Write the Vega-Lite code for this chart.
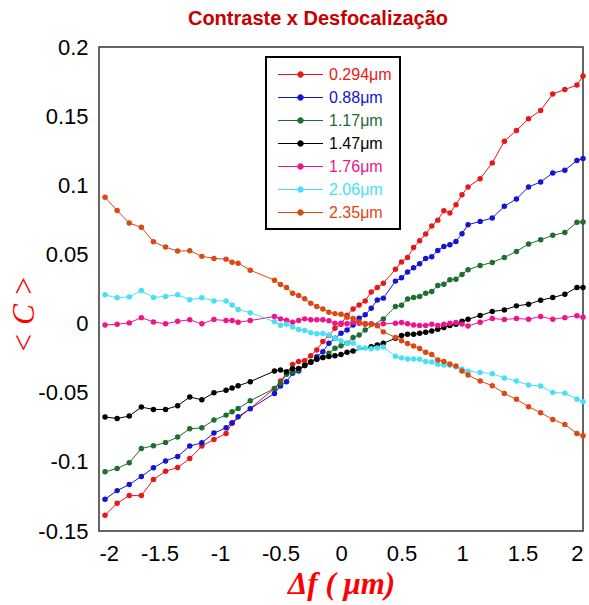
{
  "$schema": "https://vega.github.io/schema/vega-lite/v6.json",
  "autosize": {"type": "none"},
  "width": 484,
  "height": 484,
  "padding": {"left": 99, "top": 47, "right": 6, "bottom": 74},
  "background": "white",
  "title": {
    "text": "Contraste x Desfocalização",
    "font": "Liberation Sans",
    "fontSize": 20,
    "fontWeight": "bold",
    "color": "#c80000",
    "anchor": "middle",
    "dx": -23,
    "offset": 7
  },
  "config": {
    "view": {"stroke": "#333333", "strokeWidth": 1.5},
    "axis": {
      "domain": false,
      "ticks": false,
      "grid": false,
      "labelFont": "Liberation Sans",
      "labelFontSize": 22,
      "labelColor": "#000000"
    }
  },
  "datasets": {
    "contraste": [
      {"s":"0.294μm","x":-1.95,"y":-0.1386},{"s":"0.294μm","x":-1.85,"y":-0.1299},{"s":"0.294μm","x":-1.75,"y":-0.1244},{"s":"0.294μm","x":-1.65,"y":-0.1244},{"s":"0.294μm","x":-1.55,"y":-0.1128},{"s":"0.294μm","x":-1.45,"y":-0.1068},{"s":"0.294μm","x":-1.35,"y":-0.1041},{"s":"0.294μm","x":-1.25,"y":-0.0976},{"s":"0.294μm","x":-1.15,"y":-0.0886},{"s":"0.294μm","x":-1.05,"y":-0.0838},{"s":"0.294μm","x":-0.95,"y":-0.0795},{"s":"0.294μm","x":-0.9,"y":-0.072},{"s":"0.294μm","x":-0.55,"y":-0.047},{"s":"0.294μm","x":-0.5,"y":-0.0415},{"s":"0.294μm","x":-0.45,"y":-0.036},{"s":"0.294μm","x":-0.4,"y":-0.0295},{"s":"0.294μm","x":-0.35,"y":-0.0275},{"s":"0.294μm","x":-0.3,"y":-0.0268},{"s":"0.294μm","x":-0.25,"y":-0.0232},{"s":"0.294μm","x":-0.2,"y":-0.0191},{"s":"0.294μm","x":-0.15,"y":-0.013},{"s":"0.294μm","x":-0.1,"y":-0.0087},{"s":"0.294μm","x":-0.05,"y":-0.0034},{"s":"0.294μm","x":0,"y":-0.0005},{"s":"0.294μm","x":0.05,"y":0.006},{"s":"0.294μm","x":0.1,"y":0.0106},{"s":"0.294μm","x":0.15,"y":0.0135},{"s":"0.294μm","x":0.2,"y":0.0164},{"s":"0.294μm","x":0.25,"y":0.0228},{"s":"0.294μm","x":0.3,"y":0.0261},{"s":"0.294μm","x":0.35,"y":0.0292},{"s":"0.294μm","x":0.45,"y":0.0392},{"s":"0.294μm","x":0.5,"y":0.0446},{"s":"0.294μm","x":0.55,"y":0.0478},{"s":"0.294μm","x":0.6,"y":0.055},{"s":"0.294μm","x":0.65,"y":0.0599},{"s":"0.294μm","x":0.7,"y":0.0647},{"s":"0.294μm","x":0.75,"y":0.0705},{"s":"0.294μm","x":0.8,"y":0.0748},{"s":"0.294μm","x":0.85,"y":0.0816},{"s":"0.294μm","x":0.9,"y":0.08},{"s":"0.294μm","x":0.95,"y":0.086},{"s":"0.294μm","x":1.0,"y":0.0932},{"s":"0.294μm","x":1.05,"y":0.0988},{"s":"0.294μm","x":1.15,"y":0.1047},{"s":"0.294μm","x":1.25,"y":0.1162},{"s":"0.294μm","x":1.35,"y":0.1319},{"s":"0.294μm","x":1.45,"y":0.1396},{"s":"0.294μm","x":1.55,"y":0.1481},{"s":"0.294μm","x":1.65,"y":0.1541},{"s":"0.294μm","x":1.75,"y":0.166},{"s":"0.294μm","x":1.85,"y":0.1692},{"s":"0.294μm","x":1.95,"y":0.1725},{"s":"0.294μm","x":2.0,"y":0.179},

      {"s":"0.88μm","x":-1.95,"y":-0.127},{"s":"0.88μm","x":-1.85,"y":-0.1208},{"s":"0.88μm","x":-1.75,"y":-0.1164},{"s":"0.88μm","x":-1.65,"y":-0.1106},{"s":"0.88μm","x":-1.55,"y":-0.1043},{"s":"0.88μm","x":-1.45,"y":-0.0993},{"s":"0.88μm","x":-1.35,"y":-0.0961},{"s":"0.88μm","x":-1.25,"y":-0.0886},{"s":"0.88μm","x":-1.15,"y":-0.0862},{"s":"0.88μm","x":-1.05,"y":-0.0792},{"s":"0.88μm","x":-0.95,"y":-0.0754},{"s":"0.88μm","x":-0.9,"y":-0.0717},{"s":"0.88μm","x":-0.85,"y":-0.0674},{"s":"0.88μm","x":-0.75,"y":-0.0616},{"s":"0.88μm","x":-0.55,"y":-0.0505},{"s":"0.88μm","x":-0.5,"y":-0.0452},{"s":"0.88μm","x":-0.45,"y":-0.042},{"s":"0.88μm","x":-0.4,"y":-0.036},{"s":"0.88μm","x":-0.35,"y":-0.0343},{"s":"0.88μm","x":-0.3,"y":-0.0304},{"s":"0.88μm","x":-0.25,"y":-0.028},{"s":"0.88μm","x":-0.2,"y":-0.0239},{"s":"0.88μm","x":-0.15,"y":-0.0203},{"s":"0.88μm","x":-0.1,"y":-0.0143},{"s":"0.88μm","x":-0.05,"y":-0.0106},{"s":"0.88μm","x":0,"y":-0.007},{"s":"0.88μm","x":0.05,"y":-0.0046},{"s":"0.88μm","x":0.1,"y":-0.001},{"s":"0.88μm","x":0.15,"y":0.0039},{"s":"0.88μm","x":0.2,"y":0.0063},{"s":"0.88μm","x":0.25,"y":0.0111},{"s":"0.88μm","x":0.3,"y":0.0171},{"s":"0.88μm","x":0.35,"y":0.0184},{"s":"0.88μm","x":0.45,"y":0.0307},{"s":"0.88μm","x":0.5,"y":0.0331},{"s":"0.88μm","x":0.55,"y":0.0373},{"s":"0.88μm","x":0.6,"y":0.0403},{"s":"0.88μm","x":0.65,"y":0.0433},{"s":"0.88μm","x":0.7,"y":0.047},{"s":"0.88μm","x":0.75,"y":0.0484},{"s":"0.88μm","x":0.8,"y":0.0528},{"s":"0.88μm","x":0.85,"y":0.0558},{"s":"0.88μm","x":0.9,"y":0.057},{"s":"0.88μm","x":0.95,"y":0.0594},{"s":"0.88μm","x":1.0,"y":0.065},{"s":"0.88μm","x":1.05,"y":0.0715},{"s":"0.88μm","x":1.15,"y":0.0739},{"s":"0.88μm","x":1.25,"y":0.0763},{"s":"0.88μm","x":1.35,"y":0.0848},{"s":"0.88μm","x":1.45,"y":0.0901},{"s":"0.88μm","x":1.55,"y":0.0988},{"s":"0.88μm","x":1.65,"y":0.1024},{"s":"0.88μm","x":1.75,"y":0.1089},{"s":"0.88μm","x":1.85,"y":0.1109},{"s":"0.88μm","x":1.95,"y":0.1179},{"s":"0.88μm","x":2.0,"y":0.1193},

      {"s":"1.17μm","x":-1.95,"y":-0.1072},{"s":"1.17μm","x":-1.85,"y":-0.1048},{"s":"1.17μm","x":-1.75,"y":-0.1007},{"s":"1.17μm","x":-1.65,"y":-0.0903},{"s":"1.17μm","x":-1.55,"y":-0.0884},{"s":"1.17μm","x":-1.45,"y":-0.086},{"s":"1.17μm","x":-1.35,"y":-0.0821},{"s":"1.17μm","x":-1.25,"y":-0.0761},{"s":"1.17μm","x":-1.15,"y":-0.0754},{"s":"1.17μm","x":-1.05,"y":-0.0698},{"s":"1.17μm","x":-0.95,"y":-0.0662},{"s":"1.17μm","x":-0.9,"y":-0.0638},{"s":"1.17μm","x":-0.85,"y":-0.0614},{"s":"1.17μm","x":-0.75,"y":-0.0558},{"s":"1.17μm","x":-0.55,"y":-0.0469},{"s":"1.17μm","x":-0.5,"y":-0.0432},{"s":"1.17μm","x":-0.45,"y":-0.0367},{"s":"1.17μm","x":-0.4,"y":-0.035},{"s":"1.17μm","x":-0.35,"y":-0.0335},{"s":"1.17μm","x":-0.3,"y":-0.03},{"s":"1.17μm","x":-0.25,"y":-0.0275},{"s":"1.17μm","x":-0.2,"y":-0.026},{"s":"1.17μm","x":-0.15,"y":-0.0246},{"s":"1.17μm","x":-0.1,"y":-0.0215},{"s":"1.17μm","x":-0.05,"y":-0.0179},{"s":"1.17μm","x":0,"y":-0.016},{"s":"1.17μm","x":0.05,"y":-0.0143},{"s":"1.17μm","x":0.1,"y":-0.0101},{"s":"1.17μm","x":0.15,"y":-0.0082},{"s":"1.17μm","x":0.2,"y":-0.0046},{"s":"1.17μm","x":0.35,"y":0.0034},{"s":"1.17μm","x":0.45,"y":0.0123},{"s":"1.17μm","x":0.5,"y":0.0133},{"s":"1.17μm","x":0.55,"y":0.0178},{"s":"1.17μm","x":0.6,"y":0.0188},{"s":"1.17μm","x":0.65,"y":0.0196},{"s":"1.17μm","x":0.7,"y":0.022},{"s":"1.17μm","x":0.75,"y":0.0232},{"s":"1.17μm","x":0.8,"y":0.0275},{"s":"1.17μm","x":0.85,"y":0.0285},{"s":"1.17μm","x":0.9,"y":0.0317},{"s":"1.17μm","x":0.95,"y":0.0321},{"s":"1.17μm","x":1.0,"y":0.0355},{"s":"1.17μm","x":1.05,"y":0.0389},{"s":"1.17μm","x":1.15,"y":0.042},{"s":"1.17μm","x":1.25,"y":0.0442},{"s":"1.17μm","x":1.35,"y":0.0478},{"s":"1.17μm","x":1.45,"y":0.0522},{"s":"1.17μm","x":1.55,"y":0.0575},{"s":"1.17μm","x":1.65,"y":0.0606},{"s":"1.17μm","x":1.75,"y":0.0638},{"s":"1.17μm","x":1.85,"y":0.0659},{"s":"1.17μm","x":1.95,"y":0.0732},{"s":"1.17μm","x":2.0,"y":0.0734},

      {"s":"1.47μm","x":-1.95,"y":-0.0676},{"s":"1.47μm","x":-1.85,"y":-0.0686},{"s":"1.47μm","x":-1.75,"y":-0.0669},{"s":"1.47μm","x":-1.65,"y":-0.0604},{"s":"1.47μm","x":-1.55,"y":-0.0621},{"s":"1.47μm","x":-1.45,"y":-0.0621},{"s":"1.47μm","x":-1.35,"y":-0.0594},{"s":"1.47μm","x":-1.25,"y":-0.0531},{"s":"1.47μm","x":-1.15,"y":-0.0551},{"s":"1.47μm","x":-1.05,"y":-0.05},{"s":"1.47μm","x":-0.95,"y":-0.0483},{"s":"1.47μm","x":-0.9,"y":-0.0466},{"s":"1.47μm","x":-0.85,"y":-0.045},{"s":"1.47μm","x":-0.75,"y":-0.042},{"s":"1.47μm","x":-0.55,"y":-0.0343},{"s":"1.47μm","x":-0.5,"y":-0.0336},{"s":"1.47μm","x":-0.45,"y":-0.0348},{"s":"1.47μm","x":-0.4,"y":-0.0326},{"s":"1.47μm","x":-0.35,"y":-0.0324},{"s":"1.47μm","x":-0.3,"y":-0.0304},{"s":"1.47μm","x":-0.25,"y":-0.028},{"s":"1.47μm","x":-0.2,"y":-0.0256},{"s":"1.47μm","x":-0.15,"y":-0.0246},{"s":"1.47μm","x":-0.1,"y":-0.0239},{"s":"1.47μm","x":-0.05,"y":-0.0232},{"s":"1.47μm","x":0,"y":-0.0224},{"s":"1.47μm","x":0.05,"y":-0.0208},{"s":"1.47μm","x":0.1,"y":-0.0198},{"s":"1.47μm","x":0.25,"y":-0.0167},{"s":"1.47μm","x":0.3,"y":-0.0155},{"s":"1.47μm","x":0.35,"y":-0.0143},{"s":"1.47μm","x":0.45,"y":-0.0106},{"s":"1.47μm","x":0.5,"y":-0.0087},{"s":"1.47μm","x":0.55,"y":-0.0077},{"s":"1.47μm","x":0.6,"y":-0.0077},{"s":"1.47μm","x":0.65,"y":-0.007},{"s":"1.47μm","x":0.7,"y":-0.0063},{"s":"1.47μm","x":0.75,"y":-0.0053},{"s":"1.47μm","x":0.8,"y":-0.0041},{"s":"1.47μm","x":0.85,"y":-0.0029},{"s":"1.47μm","x":0.9,"y":-0.0014},{"s":"1.47μm","x":0.95,"y":-0.0005},{"s":"1.47μm","x":1.0,"y":0.0017},{"s":"1.47μm","x":1.05,"y":0.0031},{"s":"1.47μm","x":1.15,"y":0.0058},{"s":"1.47μm","x":1.25,"y":0.0087},{"s":"1.47μm","x":1.35,"y":0.0099},{"s":"1.47μm","x":1.45,"y":0.0128},{"s":"1.47μm","x":1.55,"y":0.014},{"s":"1.47μm","x":1.65,"y":0.0169},{"s":"1.47μm","x":1.75,"y":0.0188},{"s":"1.47μm","x":1.85,"y":0.0212},{"s":"1.47μm","x":1.95,"y":0.0261},{"s":"1.47μm","x":2.0,"y":0.0261},

      {"s":"1.76μm","x":-1.95,"y":-0.001},{"s":"1.76μm","x":-1.85,"y":-0.0005},{"s":"1.76μm","x":-1.75,"y":0.0005},{"s":"1.76μm","x":-1.65,"y":0.0043},{"s":"1.76μm","x":-1.55,"y":0.0012},{"s":"1.76μm","x":-1.45,"y":-0.0002},{"s":"1.76μm","x":-1.35,"y":0.0017},{"s":"1.76μm","x":-1.25,"y":0.0027},{"s":"1.76μm","x":-1.15,"y":-0.0002},{"s":"1.76μm","x":-1.05,"y":0.0029},{"s":"1.76μm","x":-0.95,"y":0.0022},{"s":"1.76μm","x":-0.9,"y":0.0022},{"s":"1.76μm","x":-0.85,"y":0.001},{"s":"1.76μm","x":-0.75,"y":0.0022},{"s":"1.76μm","x":-0.55,"y":0.0051},{"s":"1.76μm","x":-0.5,"y":0.0034},{"s":"1.76μm","x":-0.45,"y":0.0024},{"s":"1.76μm","x":-0.4,"y":0.001},{"s":"1.76μm","x":-0.35,"y":0.0022},{"s":"1.76μm","x":-0.3,"y":0.0034},{"s":"1.76μm","x":-0.25,"y":0.0027},{"s":"1.76μm","x":-0.2,"y":0.0027},{"s":"1.76μm","x":-0.15,"y":0.0027},{"s":"1.76μm","x":-0.1,"y":0.002},{"s":"1.76μm","x":-0.05,"y":0.0002},{"s":"1.76μm","x":0,"y":0.0002},{"s":"1.76μm","x":0.05,"y":-0.0002},{"s":"1.76μm","x":0.1,"y":0.001},{"s":"1.76μm","x":0.15,"y":0.0002},{"s":"1.76μm","x":0.2,"y":-0.0005},{"s":"1.76μm","x":0.25,"y":-0.0002},{"s":"1.76μm","x":0.35,"y":-0.0002},{"s":"1.76μm","x":0.45,"y":0.0002},{"s":"1.76μm","x":0.5,"y":0.0007},{"s":"1.76μm","x":0.55,"y":-0.0002},{"s":"1.76μm","x":0.6,"y":-0.001},{"s":"1.76μm","x":0.65,"y":-0.0014},{"s":"1.76μm","x":0.7,"y":-0.0014},{"s":"1.76μm","x":0.75,"y":-0.0005},{"s":"1.76μm","x":0.8,"y":-0.0014},{"s":"1.76μm","x":0.85,"y":-0.0005},{"s":"1.76μm","x":0.9,"y":0.0002},{"s":"1.76μm","x":0.95,"y":0.0007},{"s":"1.76μm","x":1.0,"y":-0.0004},{"s":"1.76μm","x":1.05,"y":-0.0018},{"s":"1.76μm","x":1.15,"y":0.001},{"s":"1.76μm","x":1.25,"y":0.0036},{"s":"1.76μm","x":1.35,"y":0.003},{"s":"1.76μm","x":1.45,"y":0.0036},{"s":"1.76μm","x":1.55,"y":0.0032},{"s":"1.76μm","x":1.65,"y":0.0051},{"s":"1.76μm","x":1.75,"y":0.0032},{"s":"1.76μm","x":1.85,"y":0.0043},{"s":"1.76μm","x":1.95,"y":0.0057},{"s":"1.76μm","x":2.0,"y":0.0045},

      {"s":"2.06μm","x":-1.95,"y":0.0208},{"s":"2.06μm","x":-1.85,"y":0.0186},{"s":"2.06μm","x":-1.75,"y":0.0193},{"s":"2.06μm","x":-1.65,"y":0.0239},{"s":"2.06μm","x":-1.55,"y":0.0188},{"s":"2.06μm","x":-1.45,"y":0.0196},{"s":"2.06μm","x":-1.35,"y":0.0208},{"s":"2.06μm","x":-1.25,"y":0.0172},{"s":"2.06μm","x":-1.15,"y":0.0186},{"s":"2.06μm","x":-1.05,"y":0.0164},{"s":"2.06μm","x":-0.95,"y":0.0164},{"s":"2.06μm","x":-0.9,"y":0.0135},{"s":"2.06μm","x":-0.85,"y":0.0102},{"s":"2.06μm","x":-0.75,"y":0.0079},{"s":"2.06μm","x":-0.55,"y":0.0014},{"s":"2.06μm","x":-0.5,"y":-0.0012},{"s":"2.06μm","x":-0.45,"y":-0.0005},{"s":"2.06μm","x":-0.4,"y":-0.0025},{"s":"2.06μm","x":-0.35,"y":-0.0043},{"s":"2.06μm","x":-0.3,"y":-0.005},{"s":"2.06μm","x":-0.25,"y":-0.0066},{"s":"2.06μm","x":-0.2,"y":-0.0073},{"s":"2.06μm","x":-0.15,"y":-0.0072},{"s":"2.06μm","x":-0.1,"y":-0.0082},{"s":"2.06μm","x":-0.05,"y":-0.0106},{"s":"2.06μm","x":0,"y":-0.0125},{"s":"2.06μm","x":0.05,"y":-0.0145},{"s":"2.06μm","x":0.1,"y":-0.014},{"s":"2.06μm","x":0.15,"y":-0.0175},{"s":"2.06μm","x":0.2,"y":-0.0176},{"s":"2.06μm","x":0.25,"y":-0.0182},{"s":"2.06μm","x":0.3,"y":-0.0176},{"s":"2.06μm","x":0.35,"y":-0.017},{"s":"2.06μm","x":0.45,"y":-0.0237},{"s":"2.06μm","x":0.5,"y":-0.0248},{"s":"2.06μm","x":0.55,"y":-0.0256},{"s":"2.06μm","x":0.6,"y":-0.0256},{"s":"2.06μm","x":0.65,"y":-0.0258},{"s":"2.06μm","x":0.7,"y":-0.0275},{"s":"2.06μm","x":0.75,"y":-0.0278},{"s":"2.06μm","x":0.8,"y":-0.0295},{"s":"2.06μm","x":0.85,"y":-0.03},{"s":"2.06μm","x":0.9,"y":-0.0302},{"s":"2.06μm","x":0.95,"y":-0.0312},{"s":"2.06μm","x":1.0,"y":-0.0328},{"s":"2.06μm","x":1.05,"y":-0.0345},{"s":"2.06μm","x":1.15,"y":-0.0354},{"s":"2.06μm","x":1.25,"y":-0.0362},{"s":"2.06μm","x":1.35,"y":-0.0393},{"s":"2.06μm","x":1.45,"y":-0.0416},{"s":"2.06μm","x":1.55,"y":-0.0444},{"s":"2.06μm","x":1.65,"y":-0.0452},{"s":"2.06μm","x":1.75,"y":-0.0499},{"s":"2.06μm","x":1.85,"y":-0.0503},{"s":"2.06μm","x":1.95,"y":-0.0547},{"s":"2.06μm","x":2.0,"y":-0.0565},

      {"s":"2.35μm","x":-1.95,"y":0.0913},{"s":"2.35μm","x":-1.85,"y":0.0817},{"s":"2.35μm","x":-1.75,"y":0.0727},{"s":"2.35μm","x":-1.65,"y":0.0696},{"s":"2.35μm","x":-1.55,"y":0.0592},{"s":"2.35μm","x":-1.45,"y":0.0553},{"s":"2.35μm","x":-1.35,"y":0.0524},{"s":"2.35μm","x":-1.25,"y":0.0527},{"s":"2.35μm","x":-1.15,"y":0.0486},{"s":"2.35μm","x":-1.05,"y":0.0471},{"s":"2.35μm","x":-0.95,"y":0.0466},{"s":"2.35μm","x":-0.9,"y":0.0444},{"s":"2.35μm","x":-0.85,"y":0.0437},{"s":"2.35μm","x":-0.75,"y":0.0386},{"s":"2.35μm","x":-0.55,"y":0.0314},{"s":"2.35μm","x":-0.5,"y":0.0283},{"s":"2.35μm","x":-0.45,"y":0.0261},{"s":"2.35μm","x":-0.4,"y":0.022},{"s":"2.35μm","x":-0.35,"y":0.0203},{"s":"2.35μm","x":-0.3,"y":0.0179},{"s":"2.35μm","x":-0.25,"y":0.0147},{"s":"2.35μm","x":-0.2,"y":0.0123},{"s":"2.35μm","x":-0.15,"y":0.0106},{"s":"2.35μm","x":-0.1,"y":0.0082},{"s":"2.35μm","x":-0.05,"y":0.0072},{"s":"2.35μm","x":0,"y":0.0067},{"s":"2.35μm","x":0.05,"y":0.0045},{"s":"2.35μm","x":0.1,"y":0.0036},{"s":"2.35μm","x":0.15,"y":0.0012},{"s":"2.35μm","x":0.2,"y":0.0001},{"s":"2.35μm","x":0.25,"y":-0.0007},{"s":"2.35μm","x":0.3,"y":-0.0016},{"s":"2.35μm","x":0.35,"y":-0.006},{"s":"2.35μm","x":0.45,"y":-0.01},{"s":"2.35μm","x":0.5,"y":-0.0124},{"s":"2.35μm","x":0.55,"y":-0.0144},{"s":"2.35μm","x":0.6,"y":-0.0162},{"s":"2.35μm","x":0.65,"y":-0.0181},{"s":"2.35μm","x":0.7,"y":-0.0208},{"s":"2.35μm","x":0.75,"y":-0.0224},{"s":"2.35μm","x":0.8,"y":-0.0263},{"s":"2.35μm","x":0.85,"y":-0.0275},{"s":"2.35μm","x":0.9,"y":-0.0293},{"s":"2.35μm","x":0.95,"y":-0.0306},{"s":"2.35μm","x":1.0,"y":-0.0343},{"s":"2.35μm","x":1.05,"y":-0.0372},{"s":"2.35μm","x":1.15,"y":-0.0416},{"s":"2.35μm","x":1.25,"y":-0.0449},{"s":"2.35μm","x":1.35,"y":-0.0505},{"s":"2.35μm","x":1.45,"y":-0.0548},{"s":"2.35μm","x":1.55,"y":-0.0601},{"s":"2.35μm","x":1.65,"y":-0.0645},{"s":"2.35μm","x":1.75,"y":-0.0693},{"s":"2.35μm","x":1.85,"y":-0.073},{"s":"2.35μm","x":1.95,"y":-0.0795},{"s":"2.35μm","x":2.0,"y":-0.0812}
    ]
  },
  "data": {"name": "contraste"},
  "mark": {
    "type": "line",
    "strokeWidth": 1,
    "point": {"filled": true, "size": 30}
  },
  "encoding": {
    "x": {
      "field": "x",
      "type": "quantitative",
      "scale": {"domain": [-2, 2], "nice": false, "zero": false},
      "axis": {
        "values": [-2, -1.5, -1, -0.5, 0, 0.5, 1, 1.5, 2],
        "labelExpr": "'' + datum.value",
        "labelPadding": 12,
        "title": "Δf ( μm)",
        "titleFont": "Liberation Serif",
        "titleFontSize": 31,
        "titleFontWeight": "bold",
        "titleFontStyle": "italic",
        "titleColor": "#ff0000",
        "titlePadding": 5
      }
    },
    "y": {
      "field": "y",
      "type": "quantitative",
      "scale": {"domain": [-0.15, 0.2], "nice": false, "zero": false},
      "axis": {
        "values": [-0.15, -0.1, -0.05, 0, 0.05, 0.1, 0.15, 0.2],
        "labelExpr": "'' + datum.value",
        "labelPadding": 11,
        "title": "< C >",
        "titleFont": "Liberation Serif",
        "titleFontSize": 31,
        "titleFontStyle": "italic",
        "titleFontWeight": "normal",
        "titleColor": "#ff0000",
        "titleAngle": -90,
        "titleAlign": "center",
        "titleBaseline": "middle",
        "titleX": -75,
        "titleY": 267
      }
    },
    "color": {
      "field": "s",
      "type": "nominal",
      "scale": {
        "domain": ["0.294μm", "0.88μm", "1.17μm", "1.47μm", "1.76μm", "2.06μm", "2.35μm"],
        "range": ["#e81818", "#1414d2", "#1e6e30", "#000000", "#f0148c", "#48e0f8", "#dc4810"]
      },
      "legend": {
        "title": null,
        "orient": "none",
        "legendX": 167,
        "legendY": 10,
        "padding": 8,
        "rowPadding": 5,
        "strokeColor": "#000000",
        "fillColor": "#ffffff",
        "symbolType": "M-2.5,0L2.5,0M-0.31,0A0.31,0.31,0,1,0,0.31,0A0.31,0.31,0,1,0,-0.31,0Z",
        "symbolSize": 324,
        "symbolStrokeWidth": 1,
        "symbolOffset": 17,
        "labelOffset": 19,
        "labelFont": "Liberation Sans",
        "labelFontSize": 16,
        "encode": {
          "labels": {"update": {"fill": {"scale": "color", "field": "value"}}},
          "symbols": {"update": {"fill": {"scale": "color", "field": "value"}, "stroke": {"scale": "color", "field": "value"}, "opacity": {"value": 1}}},
          "legend": {"update": {"strokeWidth": {"value": 2}}}
        }
      }
    }
  }
}
